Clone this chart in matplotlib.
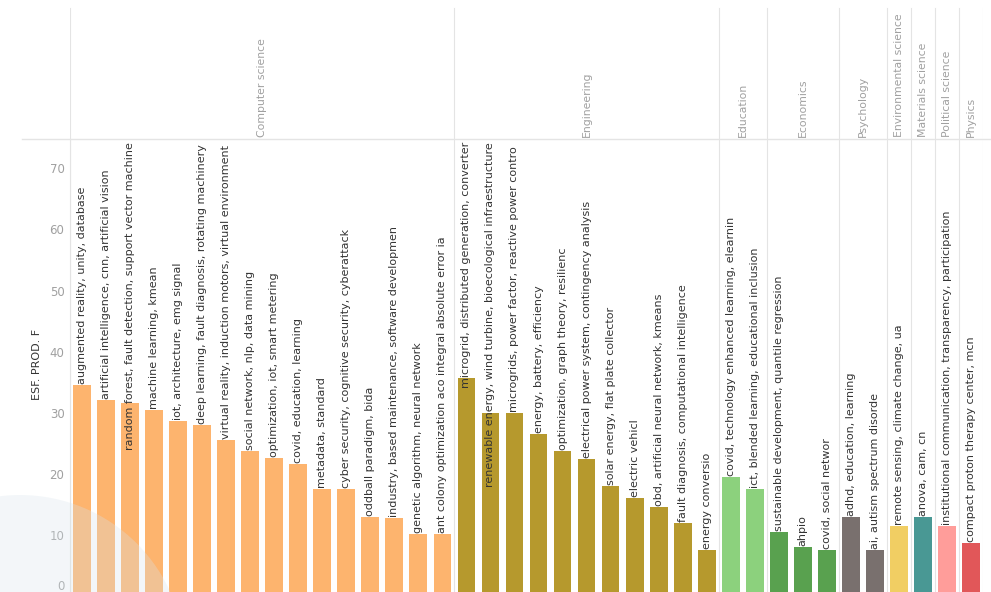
import matplotlib
matplotlib.use("Agg")
import matplotlib.pyplot as plt
from matplotlib.patches import Ellipse
from matplotlib.lines import Line2D

# ---------------- data ----------------
disciplines = ["Computer science", "Engineering", "Education", "Economics", "Psychology",
               "Environmental science", "Materials science", "Political science", "Physics"]
discipline_colors = ["#FDB46E", "#B6992D", "#8CD17D", "#59A14F", "#79706E",
                     "#F1CE63", "#499894", "#FF9D9A", "#E15759"]

cs_labels = ["augmented reality, unity, database",
             "artificial intelligence, cnn, artificial vision",
             "random forest, fault detection, support vector machine",
             "machine learning, kmean",
             "iot, architecture, emg signal",
             "deep learning, fault diagnosis, rotating machinery",
             "virtual reality, induction motors, virtual environment",
             "social network, nlp, data mining",
             "optimization, iot, smart metering",
             "covid, education, learning",
             "metadata, standard",
             "cyber security, cognitive security, cyberattack",
             "oddball paradigm, bida",
             "industry, based maintenance, software developmen",
             "genetic algorithm, neural network",
             "ant colony optimization aco integral absolute error ia"]
cs_values = [34.6, 32.0, 31.6, 30.5, 28.7, 28.0, 25.6, 23.7, 22.6, 21.6, 17.5, 17.5, 13.0, 12.7, 10.1, 10.1]

eng_labels = ["microgrid, distributed generation, converter",
              "renewable energy, wind turbine, bioecological infraestructure",
              "microgrids, power factor, reactive power contro",
              "energy, battery, efficiency",
              "optimization, graph theory, resilienc",
              "electrical power system, contingency analysis",
              "solar energy, flat plate collector",
              "electric vehicl",
              "obd, artificial neural network, kmeans",
              "fault diagnosis, computational intelligence",
              "energy conversio"]
eng_values = [35.7, 30.0, 30.0, 26.5, 23.7, 22.5, 18.0, 16.0, 14.5, 12.0, 7.5]

edu_labels = ["covid, technology enhanced learning, elearnin",
              "ict, blended learning, educational inclusion"]
edu_values = [19.5, 17.5]

eco_labels = ["sustainable development, quantile regression", "ahpio", "covid, social networ"]
eco_values = [10.5, 8.0, 7.5]

psy_labels = ["adhd, education, learning", "ai, autism spectrum disorde"]
psy_values = [13.0, 7.5]

env_labels = ["remote sensing, climate change, ua"]
env_values = [11.5]

mat_labels = ["anova, cam, cn"]
mat_values = [13.0]

pol_labels = ["institutional communication, transparency, participation"]
pol_values = [11.5]

phy_labels = ["compact proton therapy center, mcn"]
phy_values = [8.6]

y_ticks = [0, 10, 20, 30, 40, 50, 60, 70]
y_title = "ESF. PROD. F"

groups = [(cs_labels, cs_values), (eng_labels, eng_values), (edu_labels, edu_values),
          (eco_labels, eco_values), (psy_labels, psy_values), (env_labels, env_values),
          (mat_labels, mat_values), (pol_labels, pol_values), (phy_labels, phy_values)]

# ---------------- figure ----------------
W, H = 991, 592
fig = plt.figure(figsize=(W / 100, H / 100), dpi=100)
fig.patch.set_facecolor("white")

left_px, right_px = 70, 983
top_px, zero_px = 139, 596
px_per_unit = 6.11
ymax = (zero_px - top_px) / px_per_unit

ax = fig.add_axes([left_px / W, (H - zero_px) / H, (right_px - left_px) / W, (zero_px - top_px) / H])
hax = fig.add_axes([left_px / W, (H - top_px) / H, (right_px - left_px) / W, top_px / H])

n_total = sum(len(v) for _, v in groups)
ax.set_xlim(-0.5, n_total - 0.5)
ax.set_ylim(0, ymax)
hax.set_xlim(-0.5, n_total - 0.5)
hax.set_ylim(0, top_px)
hax.axis("off")

label_font = "DejaVu Sans"
texts = []
pos = 0
boundaries = [-0.5]
for gi, (labs, vals) in enumerate(groups):
    xs = list(range(pos, pos + len(vals)))
    ax.bar(xs, vals, width=0.74, color=discipline_colors[gi], zorder=2)
    for x, v, lab in zip(xs, vals, labs):
        t = ax.text(x, v, lab, rotation=90, ha="center", va="bottom", fontsize=8.0,
                    color="#333333", family=label_font, zorder=3)
        texts.append((t, x, v))
    center = pos + (len(vals) - 1) / 2
    hax.text(center, 2, disciplines[gi], rotation=90, ha="center", va="bottom",
             fontsize=7.8, color="#a0a0a0", family=label_font)
    pos += len(vals)
    boundaries.append(pos - 0.5)

for b in boundaries:
    ax.axvline(b, color="#e4e4e4", lw=0.8, zorder=0)
    hax.plot([b, b], [0, top_px - 8], color="#e4e4e4", lw=0.8)

ax.set_yticks(y_ticks[1:])
ax.set_yticklabels([str(t) for t in y_ticks[1:]])
ax.tick_params(axis="y", length=0, pad=4, labelsize=8.5, labelcolor="#a0a0a0")
ax.tick_params(axis="x", length=0, labelbottom=False)
ax.set_xticks([])
# the zero label sits slightly above the (cropped) baseline
ax.annotate(str(y_ticks[0]), xy=(0, y_ticks[0]), xycoords=("axes fraction", "data"),
            xytext=(-4, 6.5), textcoords="offset points", ha="right", va="center",
            fontsize=8.5, color="#a0a0a0")
for s in ["top", "right", "bottom"]:
    ax.spines[s].set_visible(False)
ax.spines["left"].set_color("#e4e4e4")
ax.spines["left"].set_linewidth(0.8)

fig.text(37 / W, (H - 364) / H, y_title, rotation=90, ha="center", va="center",
         fontsize=8, color="#333333", family=label_font)

# header separator line
fig.add_artist(Line2D([22 / W, 1.0], [(H - top_px) / H] * 2, color="#e4e4e4", lw=1.0,
                      transform=fig.transFigure))

# push labels down when they would run past the header
fig.canvas.draw()
renderer = fig.canvas.get_renderer()
limit_disp = H - 142
for t, x, v in texts:
    bb = t.get_window_extent(renderer)
    h = bb.height
    bottom_disp = ax.transData.transform((x, v))[1] + 1
    if bottom_disp + h > limit_disp:
        bottom_disp = limit_disp - h
    new_y = ax.transData.inverted().transform((0, bottom_disp))[1]
    t.set_y(new_y)

# faint watermark circle bottom-left
fig.add_artist(Ellipse((20 / W, (H - 660) / H), 330 / W, 330 / H, transform=fig.transFigure,
                       facecolor="#d8e4ec", edgecolor="none", alpha=0.3, zorder=10))

fig.savefig("out.png", dpi=100)
